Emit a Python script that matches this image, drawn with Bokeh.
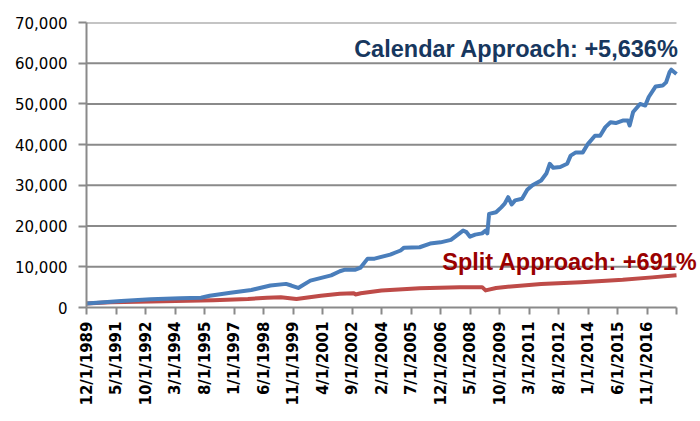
import math
from bokeh.plotting import figure
from bokeh.models import Label, Range1d, FixedTicker, NumeralTickFormatter
from bokeh.embed import file_html
from bokeh.resources import INLINE

# ---- data ----
calendar_dates = ["1989-12", "1991-08", "1993-01", "1994-06", "1995-06", "1995-11", "1996-11",
                  "1997-11", "1998-10", "1999-07", "1999-10", "2000-02", "2000-09", "2001-09",
                  "2002-02", "2002-05", "2002-11", "2003-02", "2003-06", "2003-10", "2004-07",
                  "2005-01", "2005-03", "2005-12", "2006-06", "2006-12", "2007-06", "2007-10",
                  "2008-01", "2008-03", "2008-05", "2008-08", "2008-12", "2009-02", "2009-03",
                  "2009-04", "2009-08", "2009-11", "2010-01", "2010-03", "2010-05", "2010-07",
                  "2010-11", "2011-02", "2011-05", "2011-10", "2012-01", "2012-03", "2012-05",
                  "2012-09", "2013-01", "2013-03", "2013-06", "2013-10", "2014-01", "2014-05",
                  "2014-08", "2014-11", "2015-02", "2015-05", "2015-09", "2015-12", "2016-01",
                  "2016-03", "2016-07", "2016-10", "2016-12", "2017-04", "2017-08", "2017-10",
                  "2017-12", "2018-01", "2018-04"]
calendar_values = [1000, 1600, 2000, 2300, 2400, 2900, 3600,
                   4300, 5400, 5800, 5400, 4800, 6600, 7900,
                   8900, 9300, 9300, 9800, 12000, 12000, 13000,
                   14000, 14700, 14800, 15700, 16000, 16600, 17900,
                   18900, 18500, 17400, 17900, 18200, 18900, 18200,
                   23000, 23400, 24600, 25500, 27100, 25300, 26300,
                   26700, 28900, 30000, 31200, 32900, 35300, 34300,
                   34500, 35300, 37300, 38100, 38100, 40200, 42200,
                   42200, 44300, 45500, 45300, 45900, 45900, 44700,
                   48000, 50000, 49600, 51700, 54300, 54500, 55300,
                   57800, 58400, 57360]

split_dates = ["1989-12", "1991-02", "1993-01", "1996-01", "1997-09", "1998-08", "1999-04",
               "2000-01", "2001-03", "2002-02", "2002-10", "2002-11", "2003-02", "2004-02",
               "2005-12", "2007-11", "2008-12", "2009-02", "2009-08", "2009-12", "2011-10",
               "2013-09", "2015-09", "2017-02", "2018-04"]
split_values = [1000, 1300, 1500, 1800, 2100, 2400, 2500,
                2100, 2900, 3400, 3500, 3200, 3500, 4200,
                4700, 5000, 5000, 4200, 4800, 5000, 5800,
                6200, 6800, 7400, 7910]

tick_labels = ["12/1/1989", "5/1/1991", "10/1/1992", "3/1/1994", "8/1/1995", "1/1/1997",
               "6/1/1998", "11/1/1999", "4/1/2001", "9/1/2002", "2/1/2004", "7/1/2005",
               "12/1/2006", "5/1/2008", "10/1/2009", "3/1/2011", "8/1/2012", "1/1/2014",
               "6/1/2015", "11/1/2016"]
axis_end = "2018-04"
y_ticks = [0, 10000, 20000, 30000, 40000, 50000, 60000, 70000]

calendar_label = "Calendar Approach: +5,636%"
split_label = "Split Approach: +691%"


def month_index(s):
    y, m = map(int, s.split("-"))
    return (y - 1989) * 12 + (m - 12)


def label_index(lbl):
    mo, _, yr = lbl.split("/")
    return (int(yr) - 1989) * 12 + (int(mo) - 12)


cal_x = [month_index(d) for d in calendar_dates]
spl_x = [month_index(d) for d in split_dates]
end_x = month_index(axis_end)
ticks = [label_index(l) for l in tick_labels] + [end_x]
overrides = {label_index(l): l for l in tick_labels}
overrides[end_x] = ""

GRID = "#8a8a8a"
FRAME_W = 612            # frame extends past the axis end so the labels are not clipped
AXIS_W = 590             # pixel length of the drawn x axis
x_max = end_x * FRAME_W / AXIS_W

p = figure(width=700, height=421, output_backend="svg", toolbar_location=None,
           x_range=Range1d(0, x_max), y_range=Range1d(0, y_ticks[-1]),
           min_border_left=86, min_border_right=2, min_border_top=22, min_border_bottom=114)
p.outline_line_color = None
p.background_fill_color = "white"

# horizontal grid lines, only over the axis extent
gy = y_ticks[1:]
p.segment(x0=[0] * len(gy), x1=[end_x] * len(gy), y0=gy, y1=gy,
          line_color=GRID, line_width=2)

p.line(spl_x, split_values, line_color="#be4b48", line_width=4, line_join="round")
p.line(cal_x, calendar_values, line_color="#4a7ebb", line_width=4, line_join="round")

# y axis
p.yaxis.ticker = FixedTicker(ticks=y_ticks)
p.yaxis.formatter = NumeralTickFormatter(format="0,0")
p.yaxis.major_label_text_font = "DejaVu Sans"
p.yaxis.major_label_text_font_size = "15px"
p.yaxis.major_label_text_color = "black"
p.yaxis.axis_line_color = GRID
p.yaxis.axis_line_width = 2
p.yaxis.major_tick_line_color = GRID
p.yaxis.major_tick_line_width = 2
p.yaxis.major_tick_out = 8
p.yaxis.major_tick_in = 0
p.yaxis.minor_tick_line_color = None
p.yaxis.major_label_standoff = 11

# x axis
p.xaxis.ticker = FixedTicker(ticks=ticks)
p.xaxis.bounds = (0, end_x)
p.xaxis.major_label_overrides = overrides
p.xaxis.major_label_orientation = math.pi / 2
p.xaxis.major_label_text_font = "DejaVu Sans"
p.xaxis.major_label_text_font_style = "bold"
p.xaxis.major_label_text_font_size = "15px"
p.xaxis.major_label_text_color = "black"
p.xaxis.axis_line_color = GRID
p.xaxis.axis_line_width = 2
p.xaxis.major_tick_line_color = GRID
p.xaxis.major_tick_line_width = 2
p.xaxis.major_tick_out = 7
p.xaxis.major_tick_in = 0
p.xaxis.minor_tick_line_color = None
p.xaxis.major_label_standoff = 7

p.xgrid.grid_line_color = None
p.ygrid.grid_line_color = None

p.add_layout(Label(x=end_x * 678.5 / 676, y=61700, y_offset=7, text=calendar_label,
                   text_align="right",
                   text_baseline="alphabetic", text_font="Liberation Sans",
                   text_font_style="bold", text_font_size="23.5px", text_color="#17375e"))
p.add_layout(Label(x=205.0, y=9300, y_offset=8, text=split_label, text_align="left",
                   text_baseline="alphabetic", text_font="Liberation Sans",
                   text_font_style="bold", text_font_size="23.5px", text_color="#990000"))

open("out.html", "w").write(file_html(p, INLINE))
